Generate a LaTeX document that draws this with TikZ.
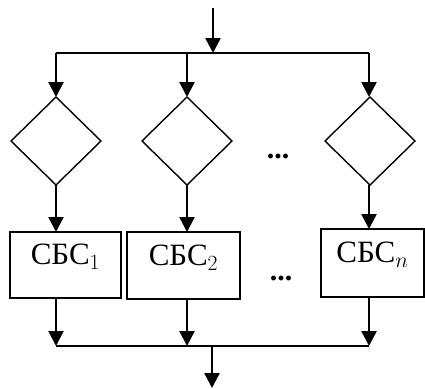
\RequirePackage{fix-cm}
\documentclass[tikz,border=0pt]{standalone}
\usepackage[no-math]{fontspec}
\setmainfont{Liberation Serif}
\usetikzlibrary{arrows.meta,shapes.geometric}

\begin{document}
\begin{tikzpicture}[x=1pt,y=-1pt,
  flow/.style={line width=2.4pt,-{Triangle[length=15pt,width=15pt]}},
  bus/.style={line width=1.6pt},
  cond/.style={diamond,draw,line width=1.4pt,minimum width=90pt,minimum height=88pt,inner sep=0pt,outer sep=0pt},
  block/.style={rectangle,draw,line width=1.6pt,inner sep=0pt,outer sep=0pt},
  lbl/.style={inner sep=0pt,font=\fontsize{31}{36}\selectfont},
  more/.style={inner sep=0pt,font=\fontsize{30}{34}\selectfont\bfseries}]
\useasboundingbox (0,0) rectangle (425,388);

% input and distribution bus
\coordinate (in) at (213,8);
\coordinate (split) at (213,53);
\coordinate (s1) at (56,53);
\coordinate (s2) at (187,53);
\coordinate (s3) at (369,53);

% condition diamonds
\node[cond] (d1) at (56,141) {};
\node[cond] (d2) at (187,141) {};
\node[cond] (d3) at (370,141) {};
\node[more] (dots1) at (278,156) {...};

% blocks
\node[block,minimum width=111pt,minimum height=66pt] (b1) at (65.5,265) {};
\node[block,minimum width=113pt,minimum height=67pt] (b2) at (183.5,265.5) {};
\node[block,minimum width=103pt,minimum height=68pt] (b3) at (372.5,263) {};
\node[lbl] (t1) at ([yshift=8pt]b1.center) {СБС$_1$};
\node[lbl] (t2) at ([yshift=8pt]b2.center) {СБС$_2$};
\node[lbl] (t3) at ([yshift=8pt]b3.center) {СБС$_n$};
\node[more] (dots2) at (281,278) {...};

% collecting bus and output
\coordinate (m1) at (56,346);
\coordinate (m2) at (187,346);
\coordinate (m3) at (369,346);
\coordinate (join) at (212,346);
\coordinate (out) at (212,388);

\draw[flow] (in) -- (split);
\draw[bus] (s1) -- (s3);
\draw[flow] (s1) -- (d1.north);
\draw[flow] (s2) -- (d2.north);
\draw[flow] (s3) -- (s3 |- d3.north);

\draw[flow] (d1.south) -- (d1.south |- b1.north);
\draw[flow] (d2.south) -- (d2.south |- b2.north);
\draw[flow] (s3 |- d3.south) -- (s3 |- b3.north);

\draw[flow] (m1 |- b1.south) -- (m1);
\draw[flow] (m2 |- b2.south) -- (m2);
\draw[flow] (m3 |- b3.south) -- (m3);
\draw[bus] (m1) -- (m3);
\draw[flow] (join) -- (out);
\end{tikzpicture}
\end{document}
